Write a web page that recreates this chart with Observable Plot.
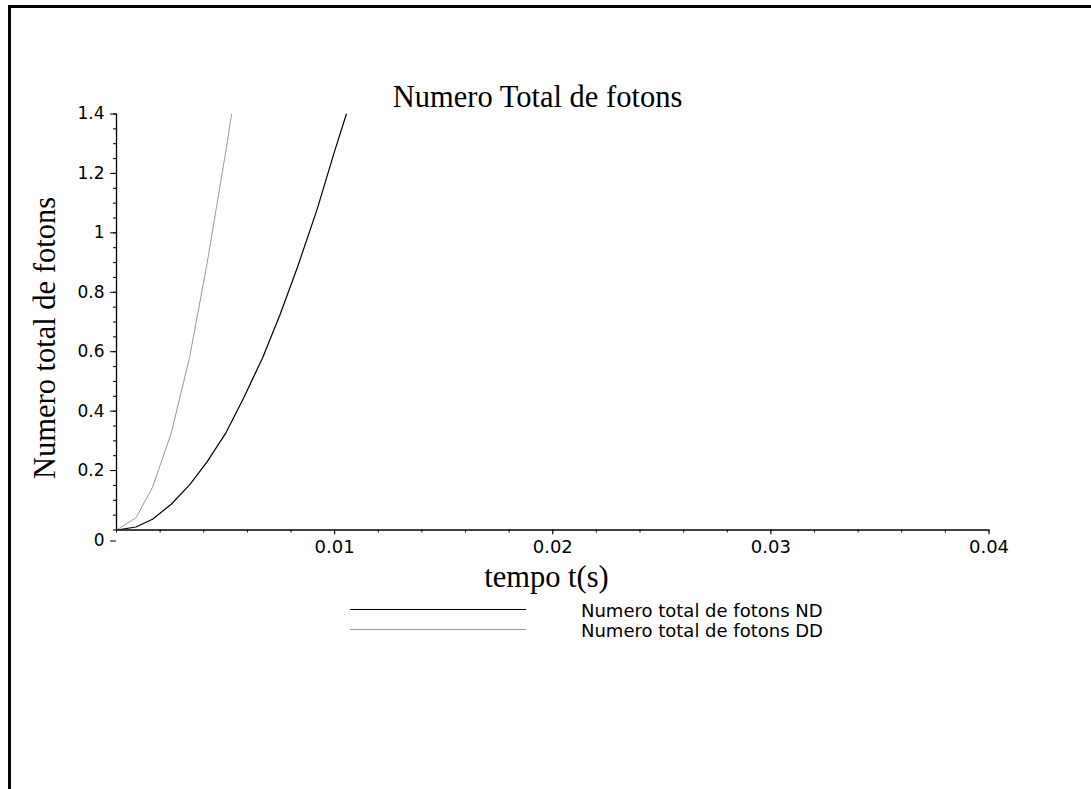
<!DOCTYPE html>
<html>
<head>
<meta charset="utf-8">
<script src="https://cdn.jsdelivr.net/npm/d3@7"></script>
<script src="https://cdn.jsdelivr.net/npm/@observablehq/plot@0.6"></script>
<style>
  html, body { margin: 0; padding: 0; background: #fff; overflow: hidden; }
  body { width: 1091px; height: 789px; position: relative; overflow: hidden; }
  #frame { position: absolute; left: 8px; top: 5px; width: 1300px; height: 1000px;
           border-top: 3px solid #000; border-left: 3px solid #000;
           border-right: none; border-bottom: none; }
  #chart { position: absolute; left: 0; top: 0; }
  .t { position: absolute; white-space: nowrap; line-height: 1; color: #000; }
  .serif { font-family: "Liberation Serif", "Times New Roman", serif; font-size: 30.5px; }
  .sans { font-family: "DejaVu Sans", sans-serif; font-size: 18px; }
  .legline { position: absolute; left: 350px; width: 176px; height: 0; }
</style>
</head>
<body>
<div id="frame"></div>
<div id="chart"></div>
<div class="t serif" style="left:537.5px; top:81.5px; transform:translateX(-50%);">Numero Total de fotons</div>
<div class="t serif" style="left:546.5px; top:561.5px; transform:translateX(-50%);">tempo t(s)</div>
<div class="t serif" style="left:45px; top:338px; transform:translate(-50%,-50%) rotate(-90deg);">Numero total de fotons</div>
<div class="legline" style="top:608.5px; border-top:1.2px solid #000;"></div>
<div class="legline" style="top:628.5px; border-top:1px solid #999;"></div>
<div class="t sans" style="left:581px; top:602px;">Numero total de fotons ND</div>
<div class="t sans" style="left:581px; top:622px;">Numero total de fotons DD</div>
<script>
// time values (s) and photon totals
const tND = [0, 0.000887, 0.00165, 0.00251, 0.00335, 0.00416, 0.0050, 0.00584, 0.0067, 0.0075, 0.0083, 0.0092, 0.0100, 0.01054];
const yND = [0, 0.0101, 0.036, 0.0866, 0.152, 0.230, 0.325, 0.446, 0.58, 0.725, 0.885, 1.08, 1.275, 1.4];
const tDD = [0, 0.000887, 0.00165, 0.00251, 0.00335, 0.00416, 0.0050, 0.00528];
const yDD = [0, 0.0405, 0.1436, 0.326, 0.581, 0.90, 1.27, 1.4];

const xTicks = [0.01, 0.02, 0.03, 0.04];
const yTicks = [0.2, 0.4, 0.6, 0.8, 1, 1.2, 1.4];
const seriesNames = ["Numero total de fotons ND", "Numero total de fotons DD"];

const nd = tND.map((t, i) => ({t, y: yND[i], s: seriesNames[0]}));
const dd = tDD.map((t, i) => ({t, y: yDD[i], s: seriesNames[1]}));

const sansFont = "DejaVu Sans, sans-serif";

const chart = Plot.plot({
  width: 1091,
  height: 789,
  marginLeft: 116,
  marginRight: 102.5,
  marginTop: 113.5,
  marginBottom: 259.5,
  style: { background: "transparent", color: "#000", overflow: "visible" },
  x: { domain: [0, 0.04] },
  y: { domain: [0, 1.4] },
  marks: [
    Plot.line(nd, { x: "t", y: "y", stroke: "#000", strokeWidth: 1.2, clip: true }),
    Plot.line(dd, { x: "t", y: "y", stroke: "#999", strokeWidth: 1, clip: true }),
    // minor ticks
    Plot.axisX({ ticks: 20, tickSize: 3, tickFormat: () => "", label: null, strokeWidth: 1 }),
    Plot.axisY({ ticks: 35, tickSize: 3, tickFormat: () => "", label: null, strokeWidth: 1 }),
    // major ticks
    Plot.axisX({ ticks: xTicks, tickSize: 5, tickPadding: 5, label: null, fontSize: 18,
                 fontFamily: sansFont, tickFormat: d => String(d), strokeWidth: 1 }),
    Plot.axisY({ ticks: yTicks, tickSize: 6, tickPadding: 6, label: null, fontSize: 17,
                 fontFamily: sansFont, tickFormat: d => String(d), strokeWidth: 1 }),
    Plot.axisY({ ticks: [0], tickSize: 6, tickPadding: 6, label: null, fontSize: 17, dy: 11,
                 fontFamily: sansFont, tickFormat: d => String(d), strokeWidth: 1 }),
    Plot.ruleX([0], { stroke: "#000", strokeWidth: 1.3 }),
    Plot.ruleY([0], { stroke: "#000", strokeWidth: 1.3 })
  ]
});
document.getElementById("chart").appendChild(chart);
</script>
</body>
</html>
